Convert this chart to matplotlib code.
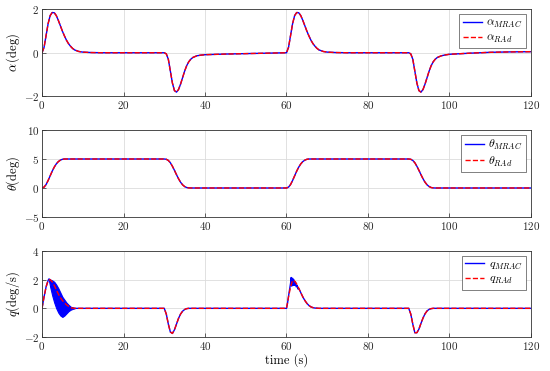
import matplotlib.pyplot as plt

plt.rcParams['font.family'] = 'cmr10'
plt.rcParams['mathtext.fontset'] = 'cm'
plt.rcParams['axes.formatter.use_mathtext'] = True

# alpha (deg) - MRAC and RAd lie on top of each other
alpha_t = [0, 0.5, 1, 1.5, 2, 2.5, 3, 3.5, 4, 4.5, 5, 5.5, 6, 6.5, 7, 7.5, 8, 9, 10, 12, 15, 20, 25, 30,
           30.5, 31, 31.5, 32, 32.5, 33, 33.5, 34, 34.5, 35, 35.5, 36, 36.5, 37, 38, 39, 40, 45, 50, 55, 60,
           60.5, 61, 61.5, 62, 62.5, 63, 63.5, 64, 64.5, 65, 65.5, 66, 66.5, 67, 67.5, 68, 69, 70, 72, 75, 80, 85, 90,
           90.5, 91, 91.5, 92, 92.5, 93, 93.5, 94, 94.5, 95, 95.5, 96, 96.5, 97, 98, 99, 100, 105, 110, 115, 120]
alpha_mrac = [0, 0.25, 0.8, 1.35, 1.72, 1.86, 1.85, 1.72, 1.5, 1.25, 1.0, 0.78, 0.58, 0.42, 0.3, 0.2, 0.13, 0.06, 0.03, 0.01, 0, 0, 0, 0,
              -0.05, -0.3, -0.85, -1.4, -1.75, -1.82, -1.7, -1.45, -1.15, -0.85, -0.6, -0.42, -0.3, -0.22, -0.14, -0.11, -0.09, -0.06, -0.04, -0.02, 0,
              0.25, 0.8, 1.35, 1.72, 1.86, 1.85, 1.72, 1.5, 1.25, 1.0, 0.78, 0.58, 0.42, 0.3, 0.2, 0.13, 0.06, 0.03, 0.01, 0, 0, 0, 0,
              -0.05, -0.3, -0.85, -1.4, -1.75, -1.82, -1.7, -1.45, -1.15, -0.85, -0.6, -0.42, -0.3, -0.22, -0.14, -0.1, -0.07, -0.02, 0.02, 0.04, 0.05]
alpha_rad = list(alpha_mrac)

# theta (deg)
theta_t = [0, 0.5, 1, 1.5, 2, 2.5, 3, 3.5, 4, 4.5, 5, 5.5, 6, 10, 20, 30,
           30.5, 31, 31.5, 32, 32.5, 33, 33.5, 34, 34.5, 35, 35.5, 36, 36.5, 37, 40, 50, 60,
           60.5, 61, 61.5, 62, 62.5, 63, 63.5, 64, 64.5, 65, 65.5, 66, 70, 80, 90,
           90.5, 91, 91.5, 92, 92.5, 93, 93.5, 94, 94.5, 95, 95.5, 96, 96.5, 97, 100, 110, 120]
theta_mrac = [0, 0.15, 0.6, 1.3, 2.1, 2.9, 3.6, 4.15, 4.55, 4.8, 4.95, 5.0, 5, 5, 5, 5,
              4.95, 4.75, 4.35, 3.75, 3.05, 2.3, 1.6, 1.0, 0.55, 0.25, 0.08, 0.02, 0, 0, 0, 0, 0,
              0.15, 0.6, 1.3, 2.1, 2.9, 3.6, 4.15, 4.55, 4.8, 4.95, 5.0, 5, 5, 5, 5,
              4.95, 4.75, 4.35, 3.75, 3.05, 2.3, 1.6, 1.0, 0.55, 0.25, 0.08, 0.02, 0, 0, 0, 0, 0]
theta_rad = list(theta_mrac)

# q (deg/s) - reference model
q_rad_t = [0, 0.5, 1, 1.5, 2, 2.5, 3, 3.5, 4, 4.5, 5, 5.5, 6, 6.5, 7, 7.5, 8, 10, 20, 30,
           30.5, 31, 31.5, 32, 32.5, 33, 33.5, 34, 34.5, 35, 35.5, 36, 40, 50, 60,
           60.5, 61, 61.5, 62, 62.5, 63, 63.5, 64, 64.5, 65, 65.5, 66, 66.5, 67, 68, 70, 80, 90,
           90.5, 91, 91.5, 92, 92.5, 93, 93.5, 94, 94.5, 95, 95.5, 96, 100, 110, 120]
q_rad = [0, 0.8, 1.5, 1.95, 2.0, 1.85, 1.6, 1.3, 1.0, 0.75, 0.55, 0.38, 0.25, 0.15, 0.05, 0.02, 0, 0, 0, 0,
         -0.4, -1.1, -1.65, -1.75, -1.5, -1.1, -0.7, -0.4, -0.2, -0.08, -0.02, 0, 0, 0, 0,
         0.8, 1.5, 1.95, 1.9, 1.7, 1.4, 1.1, 0.8, 0.55, 0.35, 0.2, 0.1, 0.05, 0.02, 0, 0, 0, 0,
         -0.4, -1.1, -1.7, -1.7, -1.45, -1.05, -0.68, -0.38, -0.18, -0.07, -0.02, 0, 0, 0, 0]

# q (deg/s) - MRAC, with the chattering around t = 61 s
q_mrac_t = [0, 0.5, 1, 1.5, 1.7, 2, 2.5, 3, 3.5, 4, 4.5, 5, 5.5, 6, 6.5, 7, 7.5, 8, 10, 20, 30,
            30.5, 31, 31.5, 32, 32.5, 33, 33.5, 34, 34.5, 35, 35.5, 36, 40, 50, 60,
            60.25, 60.5, 60.75, 61, 61.15, 61.3, 61.5, 61.65, 61.8, 62, 62.2, 62.4, 62.6, 62.8, 63,
            63.5, 64, 64.5, 65, 65.5, 66, 66.5, 67, 68, 70, 80, 90,
            90.5, 91, 91.5, 92, 92.5, 93, 93.5, 94, 94.5, 95, 95.5, 96, 100, 110, 120]
q_mrac = [0, 0.8, 1.5, 1.95, 2.05, 2.0, 1.85, 1.6, 1.3, 1.0, 0.75, 0.55, 0.38, 0.25, 0.15, 0.05, 0.02, 0, 0, 0, 0,
          -0.4, -1.1, -1.65, -1.75, -1.5, -1.1, -0.7, -0.4, -0.2, -0.08, -0.02, 0, 0, 0, 0,
          0.35, 0.85, 1.3, 1.75, 2.15, 1.55, 2.1, 1.6, 2.0, 1.6, 1.85, 1.5, 1.6, 1.35, 1.4,
          1.1, 0.8, 0.55, 0.35, 0.2, 0.1, 0.05, 0.02, 0, 0, 0, 0,
          -0.4, -1.1, -1.7, -1.7, -1.45, -1.05, -0.68, -0.38, -0.18, -0.07, -0.02, 0, 0, 0, 0]

# envelope of the fast oscillation of q_MRAC at the start
band_t = [1.7, 2, 2.5, 3, 3.5, 4, 4.5, 5, 5.5, 6, 6.5, 7, 7.5, 8]
band_hi = [2.05, 2.0, 1.95, 1.85, 1.65, 1.4, 1.1, 0.8, 0.6, 0.4, 0.25, 0.12, 0.06, 0.02]
band_lo = [1.95, 1.5, 0.9, 0.4, 0.0, -0.3, -0.5, -0.6, -0.5, -0.35, -0.2, -0.1, -0.04, 0]

xticks = [0, 20, 40, 60, 80, 100, 120]

fig = plt.figure(figsize=(5.5, 3.71), dpi=100)
pos = [[0.0764, 0.7412, 0.889, 0.2332],
       [0.0764, 0.4151, 0.889, 0.2345],
       [0.0764, 0.0916, 0.889, 0.2319]]
axes = [fig.add_axes(p) for p in pos]

def style(ax, ylim, yticks, ylabel):
    ax.set_xlim(0, 120)
    ax.set_ylim(*ylim)
    ax.set_xticks(xticks)
    ax.set_xticklabels([r'$\mathbf{%d}$' % v for v in xticks])
    ax.set_yticks(yticks)
    ax.set_yticklabels([r'$\mathbf{%d}$' % v for v in yticks])
    ax.grid(True, color='#dcdcdc', linewidth=0.6)
    ax.set_axisbelow(True)
    ax.tick_params(direction='in', length=3, width=0.5, labelsize=8, colors='0.15', pad=2)
    for s in ax.spines.values():
        s.set_linewidth(0.6)
        s.set_color('0.2')
    ax.set_ylabel(ylabel, fontsize=9, labelpad=1)

ax = axes[0]
ax.plot(alpha_t, alpha_mrac, color='b', lw=1.0, label=r'$\alpha_{MRAC}$')
ax.plot(alpha_t, alpha_rad, color='r', lw=1.0, ls='--', label=r'$\alpha_{RAd}$')
style(ax, (-2, 2), [-2, 0, 2], r'$\alpha\,\mathrm{(deg)}$')

ax = axes[1]
ax.plot(theta_t, theta_mrac, color='b', lw=1.0, label=r'$\theta_{MRAC}$')
ax.plot(theta_t, theta_rad, color='r', lw=1.0, ls='--', label=r'$\theta_{RAd}$')
style(ax, (-5, 10), [-5, 0, 5, 10], r'$\theta\mathrm{(deg)}$')

ax = axes[2]
ax.fill_between(band_t, band_lo, band_hi, color='b', lw=0.8, edgecolor='b')
ax.plot(q_mrac_t, q_mrac, color='b', lw=1.0, label=r'$q_{MRAC}$')
ax.plot(q_rad_t, q_rad, color='r', lw=1.0, ls='--', label=r'$q_{RAd}$')
style(ax, (-2, 4), [-2, 0, 2, 4], r'$q\mathrm{(deg/s)}$')
ax.set_xlabel(r'time (s)', fontsize=9, labelpad=1)

for ax in axes:
    leg = ax.legend(loc='upper right', fontsize=8.5, handlelength=1.6, borderpad=0.3,
                    labelspacing=0.2, handletextpad=0.4, fancybox=False,
                    framealpha=1, edgecolor='0.3', borderaxespad=0.4)
    leg.get_frame().set_linewidth(0.5)

fig.savefig('out.png', dpi=100)
